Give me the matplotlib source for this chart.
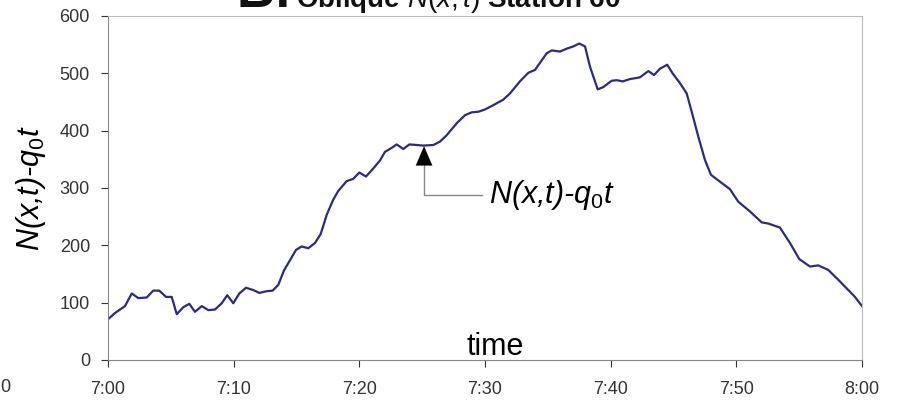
import matplotlib
matplotlib.use("Agg")
from matplotlib import pyplot as plt

plt.rcParams['font.family'] = ['Liberation Sans', 'DejaVu Sans']
plt.rcParams['mathtext.fontset'] = 'custom'
plt.rcParams['mathtext.rm'] = 'Liberation Sans'
plt.rcParams['mathtext.it'] = 'Liberation Sans:italic'
plt.rcParams['mathtext.bf'] = 'Liberation Sans:bold'

# minutes after 7:00 and N(x,t)-q0t
minutes = [0, 0.56, 1.35, 1.89, 2.41, 3.08, 3.6, 4.08, 4.62, 5.07,
           5.47, 5.99, 6.47, 6.92, 7.46, 7.98, 8.51, 9.05, 9.49, 9.97,
           10.45, 10.98, 11.56, 12.04, 12.63, 13.1, 13.55, 14.0, 14.48, 14.96,
           15.41, 15.94, 16.47, 16.93, 17.4, 17.93, 18.33, 18.99, 19.52, 20.0,
           20.53, 21.11, 21.64, 22.04, 22.57, 22.97, 23.5, 23.98, 24.56, 25.09,
           25.89, 26.42, 26.95, 27.75, 28.41, 28.94, 29.47, 30.0, 30.53, 31.45,
           31.99, 32.78, 33.45, 33.98, 34.91, 35.31, 35.97, 36.5, 37.03, 37.5,
           37.96, 38.35, 38.97, 39.41, 40.08, 40.48, 40.96, 41.54, 42.33, 43.0,
           43.45, 43.92, 44.5, 44.93, 45.51, 46.05, 46.45, 46.97, 47.5, 47.98,
           48.7, 49.49, 50.16, 51.09, 52.02, 52.54, 53.47, 54.27, 55.01, 55.86,
           56.52, 57.32, 58.11, 58.91, 59.44, 60.0]
counts = [71, 82, 94, 116, 108, 109, 121, 121, 110, 110,
          80, 92, 98, 84, 94, 87, 88, 99, 113, 99,
          116, 126, 122, 117, 120, 121, 131, 156, 174, 192,
          198, 195, 204, 220, 253, 280, 295, 312, 316, 327,
          320, 334, 348, 363, 370, 376, 368, 376, 375, 374,
          375, 381, 392, 413, 427, 432, 433, 437, 443, 454,
          465, 486, 501, 506, 535, 540, 538, 543, 547, 552,
          547, 512, 472, 476, 487, 488, 486, 490, 493, 504,
          497, 508, 515, 500, 483, 465, 433, 390, 349, 323,
          311, 298, 276, 259, 240, 238, 231, 204, 176, 163,
          165, 157, 140, 122, 110, 94]
xticks = [0, 10, 20, 30, 40, 50, 60]
xticklabels = ['7:00', '7:10', '7:20', '7:30', '7:40', '7:50', '8:00']
yticks = [0, 100, 200, 300, 400, 500, 600]

fig = plt.figure(figsize=(8.99, 4.0), dpi=100)
ax = fig.add_axes([108/899, 40/400, 754/899, 344/400])

ax.plot(minutes, counts, color='#2b2a86', lw=1.6)

ax.set_xlim(0, 60)
ax.set_ylim(0, 600)
ax.set_xticks(xticks, xticklabels)
ax.set_yticks(yticks)
ax.tick_params(labelsize=13, colors='#333333', length=5, width=0.8, pad=8)
ax.tick_params(axis='x', pad=10)
for side in ['left', 'bottom']:
    ax.spines[side].set_color('#888888')
for side in ['top', 'right']:
    ax.spines[side].set_color('#bbbbbb')

label = 'N(x,t)-' + r'$q_{\mathit{0}}t$'
ax.set_ylabel(label, fontsize=22, fontstyle='italic')
ax.yaxis.set_label_coords(-0.08, 0.5)
ax.text(0.513, 0.015, 'time', transform=ax.transAxes, fontsize=22,
        ha='center', va='baseline')

# annotation: gray elbow line + black arrow head
tip = (25.15, 373)
corner = (25.15, 288)
ax.plot([29.8, corner[0], corner[0]], [corner[1], corner[1], 340],
        color='#888888', lw=1)
ax.annotate('', xy=tip, xytext=(tip[0], 335),
            arrowprops=dict(arrowstyle='-|>,head_length=1.4,head_width=0.6',
                            color='black', lw=0, mutation_scale=10,
                            shrinkA=0, shrinkB=0))
ax.text(30.3, 288, label, fontsize=22, fontstyle='italic',
        ha='left', va='center')

# clipped title at the top and a neighbour's tick label
fig.text(237/899, 1 - 7/400, 'B:', fontsize=38, fontweight='bold',
         ha='left', va='baseline', color='#111111')
fig.text(296/899, 1 - 7/400, r'Oblique $\mathit{N(x,t)}$ Station 60',
         fontsize=20, fontweight='bold', ha='left', va='baseline',
         color='#111111')
fig.text(0.0, 1 - 388/400, '0', fontsize=13, color='#333333',
         ha='left', va='center')

fig.savefig('out.png', dpi=100)
